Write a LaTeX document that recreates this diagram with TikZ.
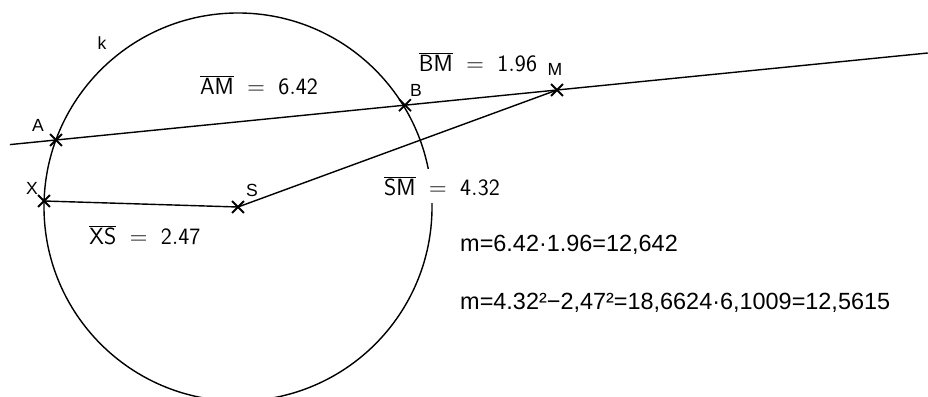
\documentclass[tikz,border=0pt]{standalone}
\usepackage{fontspec}
\newfontfamily\arialfont{Liberation Sans}
\usetikzlibrary{calc,shapes.misc}

\begin{document}
\begin{tikzpicture}[
  x=0.03cm, y=-0.03cm,
  geo/.style={line width=1.2pt},
  pt/.style={cross out, draw, minimum size=0.3cm, inner sep=0pt,
             line width=1.6pt},
  ptlbl/.style={font=\fontsize{15}{17}\selectfont\arialfont, inner sep=0pt},
  seglbl/.style={font=\fontsize{20}{24}\selectfont, fill=white,
                 inner sep=6pt},
  eqn/.style={font=\fontsize{20}{24}\selectfont\arialfont,
              anchor=west, inner sep=0pt}
]
\clip (0,0) rectangle (928,397);

% points
\node[pt] (S) at (238,207) {};
\node[pt] (X) at (44,201)  {};
\node[pt] (A) at (56,140)  {};
\node[pt] (M) at (557,90)  {};
\node[pt] (B) at ($(A)!0.6966!(M)$) {};
\coordinate (L1) at ($(A)!-0.092!(M)$);
\coordinate (L2) at ($(A)!1.74!(M)$);

% circle k and lines
\draw[geo] (S.center) circle[radius=5.82cm];
\draw[geo] (L1) -- (L2);
\draw[geo] (X.center) -- (S.center);
\draw[geo] (S.center) -- (M.center);

% point labels
\node[ptlbl] (lk) at (102,43)  {k};
\node[ptlbl] (lA) at (38,125)  {A};
\node[ptlbl] (lX) at (32,188)  {X};
\node[ptlbl] (lS) at (252,190) {S};
\node[ptlbl] (lB) at (416,90)  {B};
\node[ptlbl] (lM) at (555,69)  {M};

% lengths
\node[seglbl] (am) at (259,85)  {$\overline{\mathsf{AM}}\;=\;\mathsf{6.42}$};
\node[seglbl] (bm) at (478,62)  {$\overline{\mathsf{BM}}\;=\;\mathsf{1.96}$};
\node[seglbl] (sm) at (442,186) {$\overline{\mathsf{SM}}\;=\;\mathsf{4.32}$};
\node[seglbl] (xs) at (145,235) {$\overline{\mathsf{XS}}\;=\;\mathsf{2.47}$};

% power of M
\node[eqn] (m1) at (460,245) {m=6.42·1.96=12,642};
\node[eqn] (m2) at (460,303) {m=4.32²−2,47²=18,6624·6,1009=12,5615};

\end{tikzpicture}
\end{document}
